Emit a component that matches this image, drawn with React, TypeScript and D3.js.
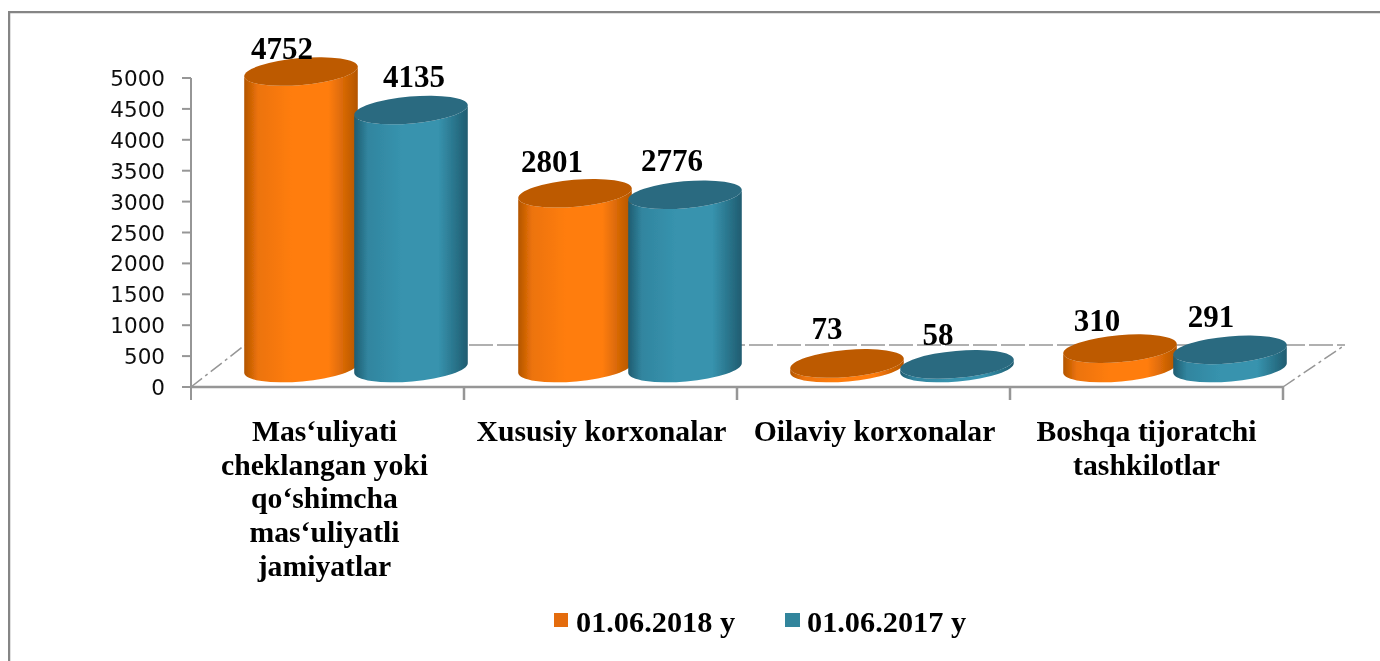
import React from "react";
import * as d3 from "d3";

const categories = ["c1", "c2", "c3", "c4"];
const categoryLines = [
  ["Mas‘uliyati", "cheklangan yoki", "qo‘shimcha", "mas‘uliyatli", "jamiyatlar"],
  ["Xususiy korxonalar"],
  ["Oilaviy korxonalar"],
  ["Boshqa tijoratchi", "tashkilotlar"],
];
const seriesNames = ["01.06.2018 y", "01.06.2017 y"];
const values2018 = [4752, 2801, 73, 310];
const values2017 = [4135, 2776, 58, 291];
const yTicks = [0, 500, 1000, 1500, 2000, 2500, 3000, 3500, 4000, 4500, 5000];
const labelShift2018 = [[-19, -12], [-22, -21], [-20, -24], [-23, -18]];
const labelShift2017 = [[3, -23], [-12, -24], [-19, -19], [-19, -23]];
const labelNudge = [-3, 1, 1, 0];

const palette = [
  { edge: "#b35500", mid: "#ff7d0d", top: "#bd5a05", legend: "#e46c0a" },
  { edge: "#1f5c70", mid: "#3793ae", top: "#2a6a80", legend: "#31859c" },
];

const W = 1380, H = 661;
const axisLeft = 191, axisRight = 1283, axisY = 387, backY = 345, backLeft = 245, backRight = 1345;
const y = d3.scaleLinear().domain([0, 5000]).range([387, 78]);
// cylinders stand mid-way back on the floor and are drawn slightly larger by the 3D projection
const yBar = d3.scaleLinear().domain([0, 5000]).range([368, 368 - 312]);
const x = d3.scaleBand().domain(categories).range([axisLeft, axisRight]);
const RX = 57, RY = 13.5, TILT = -5;
const barOffset = [110, 220];

function cylinderPath(cx: number, topY: number, botY: number) {
  const t = (TILT * Math.PI) / 180;
  const ex = RX * Math.cos(t), ey = RX * Math.sin(t);
  const arc = (tx: number, ty: number, sweep: number) =>
    `A${RX} ${RY} ${TILT} 0 ${sweep} ${tx} ${ty}`;
  return (
    `M${cx - ex} ${topY - ey}L${cx - ex} ${botY - ey}` +
    arc(cx + ex, botY + ey, 0) +
    `L${cx + ex} ${topY + ey}` +
    arc(cx - ex, topY - ey, 1) +
    "Z"
  );
}

function Cylinder({ cx, value, s }: { cx: number; value: number; s: number }) {
  const topY = yBar(value);
  return (
    <g>
      <path d={cylinderPath(cx, topY, yBar(0))} fill={`url(#side${s})`} />
      <ellipse cx={cx} cy={topY} rx={RX} ry={RY} transform={`rotate(${TILT} ${cx} ${topY})`} fill={palette[s].top} />
    </g>
  );
}

export default function App() {
  const serif = "'Liberation Serif', serif";
  const axisColor = "#969696";
  const series = [values2018, values2017];
  const shifts = [labelShift2018, labelShift2017];
  return (
    <svg width={W} height={H} style={{ position: "absolute", left: 0, top: 0, background: "#fff" }}>
      <defs>
        {palette.map((c, i) => (
          <linearGradient key={i} id={`side${i}`} x1="0" x2="1" y1="0" y2="0">
            <stop offset="0" stopColor={c.edge} />
            <stop offset="0.12" stopColor={d3.interpolateRgb(c.edge, c.mid)(0.75)} />
            <stop offset="0.42" stopColor={c.mid} />
            <stop offset="0.74" stopColor={c.mid} />
            <stop offset="1" stopColor={c.edge} />
          </linearGradient>
        ))}
        <filter id="soft" x="0" y="0" width="100%" height="100%">
          <feGaussianBlur stdDeviation="0.4" />
        </filter>
      </defs>

      <g filter="url(#soft)">
        <path d={`M8.5 ${H + 5}V11.5H${W + 5}`} fill="none" stroke="#858585" strokeWidth={3.5} />

        <g fill="none" stroke={axisColor}>
          <path d={`M${axisLeft} ${axisY}L${backLeft} ${backY}`} strokeWidth={1.5} strokeDasharray="14 4 3 4" />
          <path d={`M${axisRight} ${axisY}L${backRight} ${backY}`} strokeWidth={1.5} strokeDasharray="14 4 3 4" />
          <path d={`M${backLeft} ${backY}H${backRight}`} strokeWidth={1.5} strokeDasharray="24 4" />
          <path d={`M${axisLeft} ${y(5000)}V${axisY + 13}`} strokeWidth={2} />
          <path d={`M${axisLeft - 1} ${axisY}H${axisRight + 1}`} strokeWidth={2.5} />
          {yTicks.map((t) => (
            <path key={t} d={`M${axisLeft - 9} ${y(t)}H${axisLeft}`} strokeWidth={2} />
          ))}
          {categories.map((c) => (
            <path key={c} d={`M${(x(c) as number) + x.bandwidth()} ${axisY}v13`} strokeWidth={2.5} />
          ))}
        </g>

        {yTicks.map((t) => (
          <text key={t} x={axisLeft - 26} y={y(t) + 8} textAnchor="end" fontFamily="'DejaVu Sans'" fontSize={21.5} fill="#111">
            {t}
          </text>
        ))}

        {categories.map((c, i) => (
          <g key={c}>
            {series.map((vals, s) => (
              <Cylinder key={s} cx={(x(c) as number) + barOffset[s] + (i === 1 ? 1 : 0)} value={vals[i]} s={s} />
            ))}
          </g>
        ))}

        {categories.map((c, i) =>
          series.map((vals, s) => (
            <text
              key={c + s}
              x={(x(c) as number) + barOffset[s] + shifts[s][i][0]}
              y={yBar(vals[i]) + shifts[s][i][1]}
              textAnchor="middle"
              fontFamily={serif}
              fontWeight="bold"
              fontSize={31}
              fill="#000"
            >
              {vals[i]}
            </text>
          ))
        )}

        {categories.map((c, i) => (
          <text key={c} textAnchor="middle" fontFamily={serif} fontWeight="bold" fontSize={29.7} fill="#000">
            {categoryLines[i].map((l, j) => (
              <tspan key={j} x={(x(c) as number) + x.bandwidth() / 2 + labelNudge[i]} y={441 + j * 33.7}>
                {l}
              </tspan>
            ))}
          </text>
        ))}

        {seriesNames.map((n, i) => (
          <g key={n}>
            <rect x={[554, 785][i]} y={613} width={[14, 15][i]} height={14} fill={palette[i].legend} />
            <text x={[576, 807][i]} y={632} fontFamily={serif} fontWeight="bold" fontSize={30.3} fill="#000">
              {n}
            </text>
          </g>
        ))}
      </g>
    </svg>
  );
}
